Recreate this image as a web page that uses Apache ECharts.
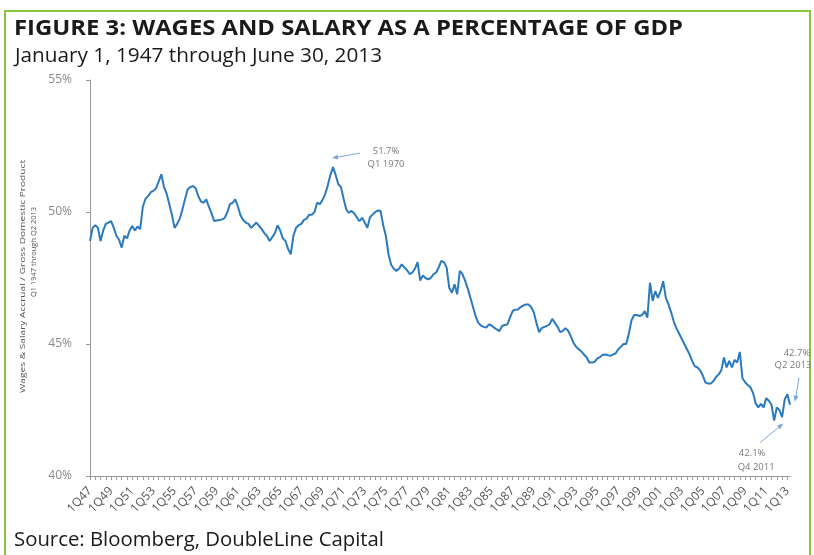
<!DOCTYPE html>
<html><head><meta charset="utf-8">
<script src="https://cdn.jsdelivr.net/npm/echarts@6/dist/echarts.min.js"></script>
<style>html,body{margin:0;padding:0;background:#fff}#c{width:814px;height:555px}</style>
</head><body><div id="c"></div>
<script>
// Wages & salary accrual / GDP (%), quarterly, Q1 1947 .. Q2 2013
const firstYear = 1947;
const lastYear = 2013;
const lastQuarter = 2;
const w1940s = [48.9,49.4,49.5,49.4, 48.9,49.3,49.55,49.6, 49.65,49.4,49.1,48.95];
const w1950s = [48.65,49.1,49.0,49.3, 49.47,49.3,49.45,49.35, 50.2,50.5,50.6,50.75, 50.8,50.9,51.15,51.43, 50.95,50.7,50.3,49.9,
                49.4,49.55,49.75,50.1, 50.5,50.86,50.95,50.98, 50.9,50.6,50.4,50.35, 50.48,50.2,49.95,49.66, 49.68,49.7,49.72,49.78];
const w1960s = [50.0,50.3,50.35,50.48, 50.2,49.87,49.7,49.6, 49.55,49.4,49.5,49.6, 49.47,49.35,49.2,49.09, 48.9,49.05,49.2,49.5,
                49.3,49.0,48.9,48.6, 48.4,49.1,49.4,49.5, 49.55,49.7,49.75,49.9, 49.9,50.0,50.35,50.3, 50.45,50.67,51.0,51.4];
const w1970s = [51.7,51.4,51.05,50.95, 50.5,50.1,49.97,50.04, 49.95,49.8,49.65,49.78, 49.6,49.4,49.8,49.9, 50.0,50.06,50.04,49.5,
                49.1,48.4,48.0,47.85, 47.77,47.85,48.02,47.9, 47.8,47.65,47.7,47.85, 48.1,47.4,47.6,47.5, 47.45,47.5,47.64,47.7];
const w1980s = [47.9,48.15,48.1,47.9, 47.13,46.94,47.26,46.88, 47.77,47.65,47.4,47.1, 46.75,46.4,46.05,45.8, 45.7,45.65,45.62,45.74,
                45.7,45.62,45.55,45.49, 45.68,45.72,45.74,46.0, 46.25,46.3,46.31,46.4, 46.45,46.5,46.5,46.4, 46.2,45.8,45.45,45.6];
const w1990s = [45.65,45.68,45.75,45.95, 45.8,45.65,45.45,45.5, 45.6,45.5,45.3,45.05, 44.9,44.8,44.72,44.6, 44.5,44.3,44.3,44.32,
                44.45,44.5,44.58,44.6, 44.58,44.55,44.6,44.65, 44.8,44.9,45.0,45.0, 45.4,45.9,46.1,46.1, 46.06,46.1,46.25,46.0];
const w2000s = [47.32,46.63,47.0,46.75, 47.0,47.38,46.75,46.5, 46.2,45.85,45.6,45.4, 45.2,45.0,44.8,44.6, 44.35,44.15,44.11,44.0,
                43.8,43.54,43.5,43.5, 43.6,43.75,43.85,44.0, 44.49,44.11,44.36,44.11, 44.4,44.3,44.7,43.7, 43.55,43.45,43.36,43.15];
const w2010s = [42.75,42.6,42.73,42.6, 42.95,42.85,42.7,42.1, 42.6,42.5,42.23,42.9, 43.1,42.7];
const yTicks = [40, 45, 50, 55];

const values = [].concat(w1940s, w1950s, w1960s, w1970s, w1980s, w1990s, w2000s, w2010s);
const categories = [];
for (let y = firstYear; y <= lastYear; y++) {
  for (let q = 1; q <= 4; q++) {
    if (y === lastYear && q > lastQuarter) break;
    categories.push(q + 'Q' + String(y).slice(2));
  }
}
const peakLabel = ['51.7%', 'Q1 1970'];
const minLabel = ['42.1%', 'Q4 2011'];
const endLabel = ['42.7%', 'Q2 2013'];
const peakCat = '1Q70', minCat = '4Q11', endCat = '2Q13';

const FONT = 'Open Sans';
const mctx = document.createElement('canvas').getContext('2d');
function fitScale(text, font, target) { mctx.font = font; return target / mctx.measureText(text).width; }

const chart = echarts.init(document.getElementById('c'), null, {renderer: 'canvas'});
const option = {
  animation: false,
  backgroundColor: '#fff',
  grid: {left: 90, right: 24, top: 80, bottom: 79, containLabel: false},
  xAxis: {
    type: 'category', data: categories, boundaryGap: false,
    axisLine: {lineStyle: {color: '#9a9a9a', width: 1}},
    axisTick: {interval: 1, length: 4, lineStyle: {color: '#9a9a9a'}},
    axisLabel: {interval: 7, rotate: 47, fontSize: 12, color: '#555', margin: 13, fontFamily: FONT}
  },
  yAxis: {
    type: 'value', min: yTicks[0], max: yTicks[yTicks.length - 1], interval: 5,
    axisLine: {show: true, lineStyle: {color: '#9a9a9a', width: 1}},
    axisTick: {show: true, length: 4, lineStyle: {color: '#9a9a9a'}},
    splitLine: {show: false},
    axisLabel: {formatter: '{value}%', fontSize: 12, color: '#8a8a8a', margin: 18, fontFamily: FONT}
  },
  series: [{
    type: 'line', data: values, showSymbol: false, smooth: false,
    lineStyle: {color: '#2a7abf', width: 2},
    itemStyle: {color: '#2a7abf'}
  }]
};
chart.setOption(option);

function px(cat, val) { return chart.convertToPixel({gridIndex: 0}, [cat, val]); }
function arrow(x1, y1, x2, y2) {
  const c = '#7fa9d6';
  const ang = Math.atan2(y2 - y1, x2 - x1);
  const L = 6, W = 2.6;
  const bx = x2 - L * Math.cos(ang), by = y2 - L * Math.sin(ang);
  const nx = -Math.sin(ang) * W, ny = Math.cos(ang) * W;
  return [
    {type: 'line', shape: {x1: x1, y1: y1, x2: bx, y2: by}, style: {stroke: c, lineWidth: 1}, silent: true},
    {type: 'polygon', shape: {points: [[x2, y2], [bx + nx, by + ny], [bx - nx, by - ny]]}, style: {fill: c}, silent: true}
  ];
}
function note(x, y, t) {
  return {type: 'text', x: x, y: y, silent: true,
    style: {text: t, fill: '#7a7a7a', font: '9.5px "' + FONT + '"', textAlign: 'center', textVerticalAlign: 'middle'}};
}
function fitted(x, y, text, font, width, fill, extra) {
  const s = fitScale(text, font, width);
  return Object.assign({type: 'text', x: x, y: y, scaleX: s, silent: true,
    style: {text: text, fill: fill, font: font, textVerticalAlign: 'middle'}}, extra || {});
}
const P = px(peakCat, values[categories.indexOf(peakCat)]);
const M = px(minCat, values[categories.indexOf(minCat)]);
const E = px(endCat, values[categories.indexOf(endCat)]);

const titleText = 'FIGURE 3: WAGES AND SALARY AS A PERCENTAGE OF GDP';
const subText = 'January 1, 1947 through June 30, 2013';
const srcText = 'Source: Bloomberg, DoubleLine Capital';
const yName1 = 'Wages & Salary Accrual / Gross Domestic Product';
const yName2 = 'Q1 1947 through Q2 2013';

const g = [
  {type: 'rect', shape: {x: 5, y: 11, width: 805, height: 560}, style: {fill: 'none', stroke: '#8cc63f', lineWidth: 2}, silent: true},
  fitted(14, 28.5, titleText, 'bold 22px "' + FONT + '"', 669, '#1a1a1a'),
  fitted(15, 56.5, subText, '20px "' + FONT + '"', 367, '#1a1a1a'),
  fitted(14, 540.5, srcText, '20px "' + FONT + '"', 370, '#1a1a1a'),
  Object.assign(fitted(22.5, 276.5, yName1, '8px "' + FONT + '"', 233, '#555'), {rotation: Math.PI / 2}),
  Object.assign(fitted(34, 252, yName2, '8px "' + FONT + '"', 90, '#555'), {rotation: Math.PI / 2}),
  note(P[0] + 53, P[1] - 16, peakLabel[0]), note(P[0] + 53, P[1] - 3, peakLabel[1]),
  note(M[0] - 22, M[1] + 33, minLabel[0]), note(M[0] - 18, M[1] + 47, minLabel[1]),
  note(E[0] + 7, E[1] - 51, endLabel[0]), note(E[0] + 3, E[1] - 39, endLabel[1])
].concat(
  arrow(P[0] + 27, P[1] - 14, P[0] - 1, P[1] - 9),
  arrow(M[0] - 14, M[1] + 22, M[0] + 9, M[1] + 3),
  arrow(E[0] + 9, E[1] - 27, E[0] + 5, E[1] - 3)
);
g[4].style.textAlign = 'center';
g[5].style.textAlign = 'center';
chart.setOption({graphic: g});
</script></body></html>
